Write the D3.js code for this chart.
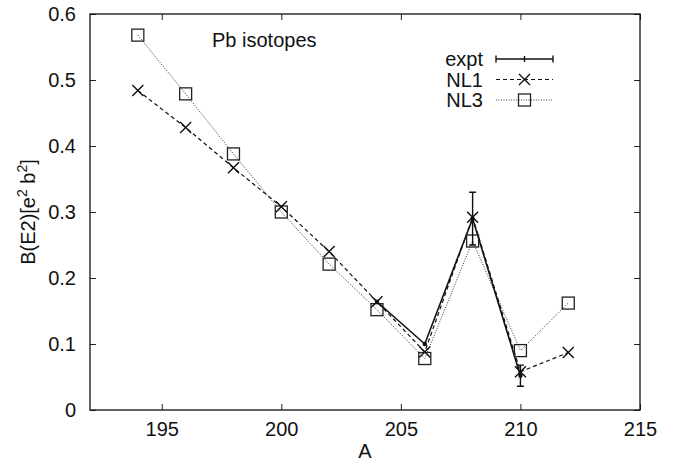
<!DOCTYPE html>
<html><head><meta charset="utf-8">
<script src="https://cdn.jsdelivr.net/npm/d3@7"></script>
<style>
html,body{margin:0;padding:0;background:#fff;}
text{font-family:"Liberation Sans",Arial,Helvetica,sans-serif;fill:#111;}
</style></head>
<body>
<svg id="chart" width="676" height="463"></svg>
<script>
// Data
const exptA = [204, 206, 208, 210];
const exptBE2 = [0.164, 0.100, 0.290, 0.052];
const exptErr = [0.0, 0.0, 0.040, 0.016];
const nlA = [194, 196, 198, 200, 202, 204, 206, 208, 210, 212];
const nl1BE2 = [0.484, 0.428, 0.367, 0.308, 0.240, 0.164, 0.088, 0.292, 0.058, 0.087];
const nl3BE2 = [0.568, 0.479, 0.388, 0.300, 0.221, 0.152, 0.078, 0.256, 0.090, 0.162];
const xTicks = [195, 200, 205, 210, 215];
const yTicks = [0, 0.1, 0.2, 0.3, 0.4, 0.5, 0.6];
const legendNames = ["expt", "NL1", "NL3"];

(function () {
const svg = d3.select("#chart");
const L = 90, R = 640, T = 14, B = 410;
const x = d3.scaleLinear().domain([192, 215]).range([L, R]);
const y = d3.scaleLinear().domain([0, 0.6]).range([B, T]);

const fs = 20;
const ax = svg.append("g");
const axB = ax.append("g").attr("transform", `translate(0,${B})`)
  .call(d3.axisBottom(x).tickValues(xTicks).tickSizeInner(-6).tickSizeOuter(0).tickPadding(12).tickFormat(d3.format("d")));
ax.append("g").attr("transform", `translate(0,${T})`)
  .call(d3.axisTop(x).tickValues(xTicks).tickSizeInner(-6).tickSizeOuter(0).tickFormat(""));
ax.append("g").attr("transform", `translate(${L},0)`)
  .call(d3.axisLeft(y).tickValues(yTicks).tickSizeInner(-6).tickSizeOuter(0).tickPadding(14).tickFormat(d => d === 0 ? "0" : d3.format(".1f")(d)));
ax.append("g").attr("transform", `translate(${R},0)`)
  .call(d3.axisRight(y).tickValues(yTicks).tickSizeInner(-6).tickSizeOuter(0).tickFormat(""));
ax.selectAll(".domain").remove();
ax.selectAll("line").attr("stroke", "#222").attr("stroke-width", 1);
ax.selectAll("text").attr("font-size", fs).attr("font-family", "Liberation Sans, Arial, sans-serif").attr("fill", "#111");
axB.selectAll("text").attr("dy", "0.71em");

svg.append("rect").attr("x", L).attr("y", T).attr("width", R - L).attr("height", B - T)
  .attr("fill", "none").attr("stroke", "#111").attr("stroke-width", 1.3);

svg.append("text").attr("x", (L + R) / 2).attr("y", 458).attr("text-anchor", "middle").attr("font-size", fs).text("A");
const yt = svg.append("text").attr("transform", `translate(35,${(T + B) / 2}) rotate(-90)`)
  .attr("text-anchor", "middle").attr("font-size", fs);
yt.append("tspan").text("B(E2)[e");
yt.append("tspan").attr("dy", -8).attr("font-size", 14).text("2");
yt.append("tspan").attr("dy", 8).text(" b");
yt.append("tspan").attr("dy", -8).attr("font-size", 14).text("2");
yt.append("tspan").attr("dy", 8).text("]");

svg.append("text").attr("x", 212).attr("y", 47).attr("font-size", fs).text("Pb isotopes");

const line = d3.line();
const g = svg.append("g");

g.append("path").attr("d", line(nlA.map((a, i) => [x(a), y(nl3BE2[i])])))
  .attr("fill", "none").attr("stroke", "#333").attr("stroke-width", 1).attr("stroke-dasharray", "1,1.5");
g.append("path").attr("d", line(nlA.map((a, i) => [x(a), y(nl1BE2[i])])))
  .attr("fill", "none").attr("stroke", "#111").attr("stroke-width", 1.2).attr("stroke-dasharray", "4,3");
g.append("path").attr("d", line(exptA.map((a, i) => [x(a), y(exptBE2[i])])))
  .attr("fill", "none").attr("stroke", "#111").attr("stroke-width", 1.6);

function square(sel, cx, cy) {
  sel.append("rect").attr("x", cx - 6).attr("y", cy - 6).attr("width", 12).attr("height", 12)
    .attr("fill", "none").attr("stroke", "#222").attr("stroke-width", 1.3);
}
function cross(sel, cx, cy) {
  const s = 5.5;
  sel.append("path").attr("d", `M${cx - s},${cy - s}L${cx + s},${cy + s}M${cx - s},${cy + s}L${cx + s},${cy - s}`)
    .attr("stroke", "#111").attr("stroke-width", 1.4).attr("fill", "none");
}
function expPoint(sel, a, v, err) {
  const cx = x(a), cy = y(v);
  if (err > 0) {
    const y1 = y(v + err), y2 = y(v - err);
    sel.append("path").attr("d", `M${cx},${y1}L${cx},${y2}M${cx - 3.5},${y1}L${cx + 3.5},${y1}M${cx - 3.5},${y2}L${cx + 3.5},${y2}`)
      .attr("stroke", "#111").attr("stroke-width", 1.4).attr("fill", "none");
  }
  sel.append("circle").attr("cx", cx).attr("cy", cy).attr("r", 2.2).attr("fill", "#111");
}

nlA.forEach((a, i) => square(g, x(a), y(nl3BE2[i])));
nlA.forEach((a, i) => cross(g, x(a), y(nl1BE2[i])));
exptA.forEach((a, i) => expPoint(g, a, exptBE2[i], exptErr[i]));

const lx0 = 496, lx1 = 553, lxc = (lx0 + lx1) / 2, textX = 483;
const rowsY = [59, 79.5, 100];
const lg = svg.append("g");
legendNames.forEach((n, i) => {
  lg.append("text").attr("x", textX).attr("y", rowsY[i]).attr("dy", "0.36em").attr("text-anchor", "end").attr("font-size", fs).text(n);
});
lg.append("path").attr("d", `M${lx0},${rowsY[0]}L${lx1},${rowsY[0]}M${lx0},${rowsY[0] - 3.5}L${lx0},${rowsY[0] + 3.5}M${lx1},${rowsY[0] - 3.5}L${lx1},${rowsY[0] + 3.5}M${lxc},${rowsY[0] - 3}L${lxc},${rowsY[0] + 3}`)
  .attr("stroke", "#111").attr("stroke-width", 1.4).attr("fill", "none");
lg.append("path").attr("d", `M${lx0},${rowsY[1]}L${lx1},${rowsY[1]}`)
  .attr("stroke", "#111").attr("stroke-width", 1.2).attr("stroke-dasharray", "4,3");
cross(lg, lxc, rowsY[1]);
lg.append("path").attr("d", `M${lx0},${rowsY[2]}L${lx1},${rowsY[2]}`)
  .attr("stroke", "#333").attr("stroke-width", 1).attr("stroke-dasharray", "1,1.5");
square(lg, lxc, rowsY[2]);
})();
</script>
</body></html>
